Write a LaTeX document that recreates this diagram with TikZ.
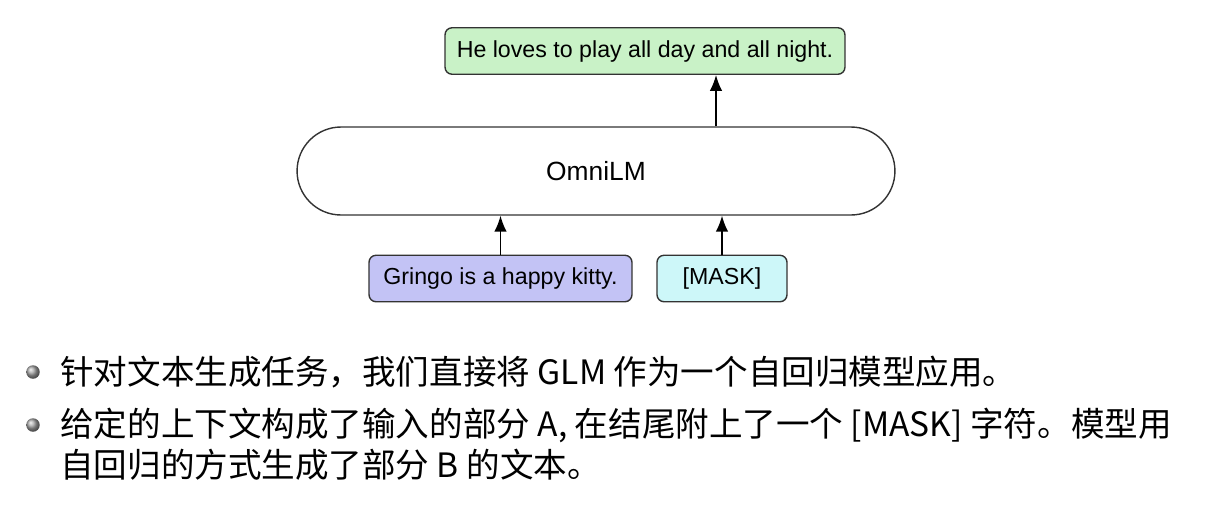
\documentclass[tikz,border=0pt]{standalone}
\usepackage{fontspec}
\setmainfont{Liberation Sans}
\newfontfamily\cjk{Noto Sans CJK SC}
\usetikzlibrary{arrows.meta}
\definecolor{outgreen}{HTML}{C9F2C7}
\definecolor{ctxblue}{HTML}{C3C3F5}
\definecolor{maskcyan}{HTML}{CDF7F9}
\begin{document}
\begin{tikzpicture}[x=0.02cm, y=-0.02cm,
        box/.style={draw=black!80, line width=0.8pt, rounded corners=4pt, inner sep=0pt,
            minimum height=0.93cm, font=\fontsize{13.2}{15}\selectfont},
        arr/.style={-{Latex[length=9pt,width=7pt]}, line width=0.8pt},
        ball/.style={circle, inner sep=0pt, minimum size=0.27cm, shading=ball, ball color=black!35},
        say/.style={anchor=west, inner sep=0pt, font=\cjk\fontsize{19.1}{22}\selectfont}]
    \useasboundingbox (0,0) rectangle (1213,511);

    \node[box, fill=outgreen, minimum width=8cm] (out) at (645,51) {He loves to play all day and all night.};
    \node[box, fill=white, minimum width=11.96cm, minimum height=1.76cm, rounded corners=0.88cm,
        font=\fontsize{15}{17}\selectfont] (omni) at (596,171) {OmniLM};
    \node[box, fill=ctxblue, minimum width=5.26cm] (ctx) at (500.5,278.5) {Gringo is a happy kitty.};
    \node[box, fill=maskcyan, minimum width=2.6cm] (mask) at (722,278.5) {[MASK]};

    \coordinate (up) at (716,0);
    \draw[arr] (omni.north -| up) -- (out.south -| up);
    \draw[arr] (ctx.north) -- (omni.south -| ctx.north);
    \draw[arr] (mask.north) -- (omni.south -| mask.north);

    \node[ball] (b1) at (33,372) {};
    \node[ball] (b2) at (33,425) {};
    \node[say] (t1) at (60,372) {针对文本生成任务，我们直接将 GLM 作为一个自回归模型应用。};
    \node[say] (t2) at (60,425) {给定的上下文构成了输入的部分 A, 在结尾附上了一个 [MASK] 字符。模型用};
    \node[say] (t3) at (60,465) {自回归的方式生成了部分 B 的文本。};
\end{tikzpicture}
\end{document}
